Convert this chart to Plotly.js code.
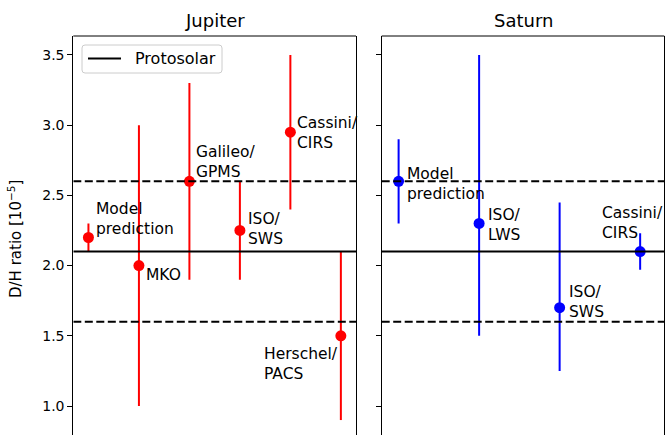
<!DOCTYPE html>
<html>
<head>
<meta charset="utf-8">
<script src="https://cdn.plot.ly/plotly-3.0.1.min.js"></script>
<style>
  html, body { margin: 0; padding: 0; background: #fff; }
  #chart { width: 667px; height: 435px; }
</style>
</head>
<body>
<div id="chart"></div>
<script>
// D/H ratio measurements for Jupiter and Saturn (units of 1e-5)
const jupiterLabels = ["Model<br>prediction", "MKO", "Galileo/<br>GPMS", "ISO/<br>SWS", "Cassini/<br>CIRS", "Herschel/<br>PACS"];
const jupiterValues = [2.2, 2.0, 2.6, 2.25, 2.95, 1.5];
const jupiterErrUp = [0.1, 1.0, 0.7, 0.35, 0.55, 0.6];
const jupiterErrDown = [0.1, 1.0, 0.7, 0.35, 0.55, 0.6];

const saturnLabels = ["Model<br>prediction", "ISO/<br>LWS", "ISO/<br>SWS", "Cassini/<br>CIRS"];
const saturnValues = [2.6, 2.3, 1.7, 2.1];
const saturnErrUp = [0.3, 1.2, 0.75, 0.13];
const saturnErrDown = [0.3, 0.8, 0.45, 0.13];

const protosolar = 2.1;
const protosolarErr = 0.5;
const protosolarName = "Protosolar";
const yTicks = [1.0, 1.5, 2.0, 2.5, 3.0, 3.5];

// label placement relative to each marker (pixels): [xanchor, xshift, yshift]
const jupiterLabelPos = [
  ["left", 6, 18], ["left", 5, -9], ["left", 5, 19],
  ["left", 6, 1], ["left", 5, -1], ["right", -1, -28]
];
const saturnLabelPos = [
  ["left", 6, -3], ["left", 7, -2], ["left", 7, 6], ["left", -40, 29]
];

const FONT = "DejaVu Sans, sans-serif";
const W = 667, H = 435;
const px = v => v / W;          // horizontal pixel -> paper
const py = v => 1 - v / H;      // vertical pixel (from top) -> paper

const jupX = jupiterValues.map((_, i) => i);
const satX = saturnValues.map((_, i) => i);
const jupRange = [-0.3, 5.3];
const satRange = [-0.21, 3.3];

function measurements(xs, ys, up, down, color, xa, ya) {
  return {
    type: "scatter", mode: "markers", x: xs, y: ys, xaxis: xa, yaxis: ya,
    marker: { color: color, size: 11 },
    error_y: { type: "data", symmetric: false, array: up, arrayminus: down,
               color: color, thickness: 2, width: 0 },
    showlegend: false, hoverinfo: "skip"
  };
}

function hline(range, y, dash, xa, ya) {
  return {
    type: "scatter", mode: "lines", x: range, y: [y, y], xaxis: xa, yaxis: ya,
    line: { color: "#000", width: 2, dash: dash },
    showlegend: false, hoverinfo: "skip"
  };
}

const DASH = "8px,3.5px";
const traces = [
  measurements(jupX, jupiterValues, jupiterErrUp, jupiterErrDown, "#ff0000", "x", "y"),
  measurements(satX, saturnValues, saturnErrUp, saturnErrDown, "#0000ff", "x2", "y2"),
  hline(jupRange, protosolar, "solid", "x", "y"),
  hline(jupRange, protosolar + protosolarErr, DASH, "x", "y"),
  hline(jupRange, protosolar - protosolarErr, DASH, "x", "y"),
  hline(satRange, protosolar, "solid", "x2", "y2"),
  hline(satRange, protosolar + protosolarErr, DASH, "x2", "y2"),
  hline(satRange, protosolar - protosolarErr, DASH, "x2", "y2")
];

function labelAnnotations(labels, xs, ys, pos, xref, yref) {
  return labels.map((t, i) => ({
    text: t, x: xs[i], y: ys[i], xref: xref, yref: yref,
    xanchor: pos[i][0], yanchor: "middle", align: "left",
    xshift: pos[i][1], yshift: pos[i][2], showarrow: false,
    font: { family: FONT, size: 15.5, color: "#000" }
  }));
}

// rounded legend frame as an SVG path in paper coordinates
function roundedRect(x0, y0, x1, y1, r) {
  const P = (x, y) => px(x) + "," + py(y);
  return "M" + P(x0 + r, y0) + " L" + P(x1 - r, y0) + " Q" + P(x1, y0) + " " + P(x1, y0 + r) +
         " L" + P(x1, y1 - r) + " Q" + P(x1, y1) + " " + P(x1 - r, y1) +
         " L" + P(x0 + r, y1) + " Q" + P(x0, y1) + " " + P(x0, y1 - r) +
         " L" + P(x0, y0 + r) + " Q" + P(x0, y0) + " " + P(x0 + r, y0) + " Z";
}

const jupDom = [px(73.3), px(356)];
const satDom = [px(381.7), px(664.3)];
const yDom = [0, py(36)];
const yRange = [0.7935, 3.635];

const yAxisBase = {
  domain: yDom, range: yRange, tickvals: yTicks, ticktext: yTicks.map(v => v.toFixed(1)),
  ticks: "outside", ticklen: 5, tickwidth: 1, tickcolor: "#000",
  showline: true, mirror: true, linecolor: "#000", linewidth: 1,
  showgrid: false, zeroline: false, fixedrange: true,
  tickfont: { family: FONT, size: 14, color: "#000" }
};
const xAxisBase = {
  showline: false, showgrid: false, zeroline: false, showticklabels: false,
  ticks: "", fixedrange: true
};

const layout = {
  width: W, height: H,
  margin: { l: 0, r: 0, t: 0, b: 0 },
  paper_bgcolor: "#fff", plot_bgcolor: "#fff",
  font: { family: FONT, color: "#000" },
  showlegend: false,
  xaxis: Object.assign({}, xAxisBase, { domain: jupDom, range: jupRange }),
  xaxis2: Object.assign({}, xAxisBase, { domain: satDom, range: satRange, anchor: "y2" }),
  yaxis: Object.assign({}, yAxisBase, { anchor: "x" }),
  yaxis2: Object.assign({}, yAxisBase, { anchor: "x2", showticklabels: false }),
  shapes: [
    { type: "line", xref: "x domain", yref: "y domain", x0: 0, x1: 1, y0: 1, y1: 1,
      line: { color: "#000", width: 1 } },
    { type: "line", xref: "x2 domain", yref: "y2 domain", x0: 0, x1: 1, y0: 1, y1: 1,
      line: { color: "#000", width: 1 } },
    // legend frame and key line
    { type: "path", xref: "paper", yref: "paper", path: roundedRect(82, 45, 222, 73, 3),
      fillcolor: "rgba(255,255,255,0.8)", line: { color: "#cccccc", width: 1 } },
    { type: "line", xref: "paper", yref: "paper", x0: px(88), x1: px(121), y0: py(58.5), y1: py(58.5),
      line: { color: "#000", width: 2 } }
  ],
  annotations: [
    { text: "Jupiter", xref: "x domain", yref: "paper", x: 0.5, y: py(21),
      xanchor: "center", yanchor: "middle", showarrow: false,
      font: { family: FONT, size: 18, color: "#000" } },
    { text: "Saturn", xref: "x2 domain", yref: "paper", x: 0.5, y: py(21),
      xanchor: "center", yanchor: "middle", showarrow: false,
      font: { family: FONT, size: 18, color: "#000" } },
    { text: "D/H ratio [10<sup>\u22125</sup>]", xref: "paper", yref: "paper",
      x: px(15), y: py(239), xanchor: "center", yanchor: "middle",
      textangle: -90, showarrow: false,
      font: { family: FONT, size: 15, color: "#000" } },
    { text: protosolarName, xref: "paper", yref: "paper", x: px(133), y: py(58.5),
      xanchor: "left", yanchor: "middle", showarrow: false,
      font: { family: FONT, size: 16, color: "#000" } }
  ].concat(
    labelAnnotations(jupiterLabels, jupX, jupiterValues, jupiterLabelPos, "x", "y"),
    labelAnnotations(saturnLabels, satX, saturnValues, saturnLabelPos, "x2", "y2")
  )
};

Plotly.newPlot("chart", traces, layout, { displayModeBar: false, staticPlot: true });
</script>
</body>
</html>
